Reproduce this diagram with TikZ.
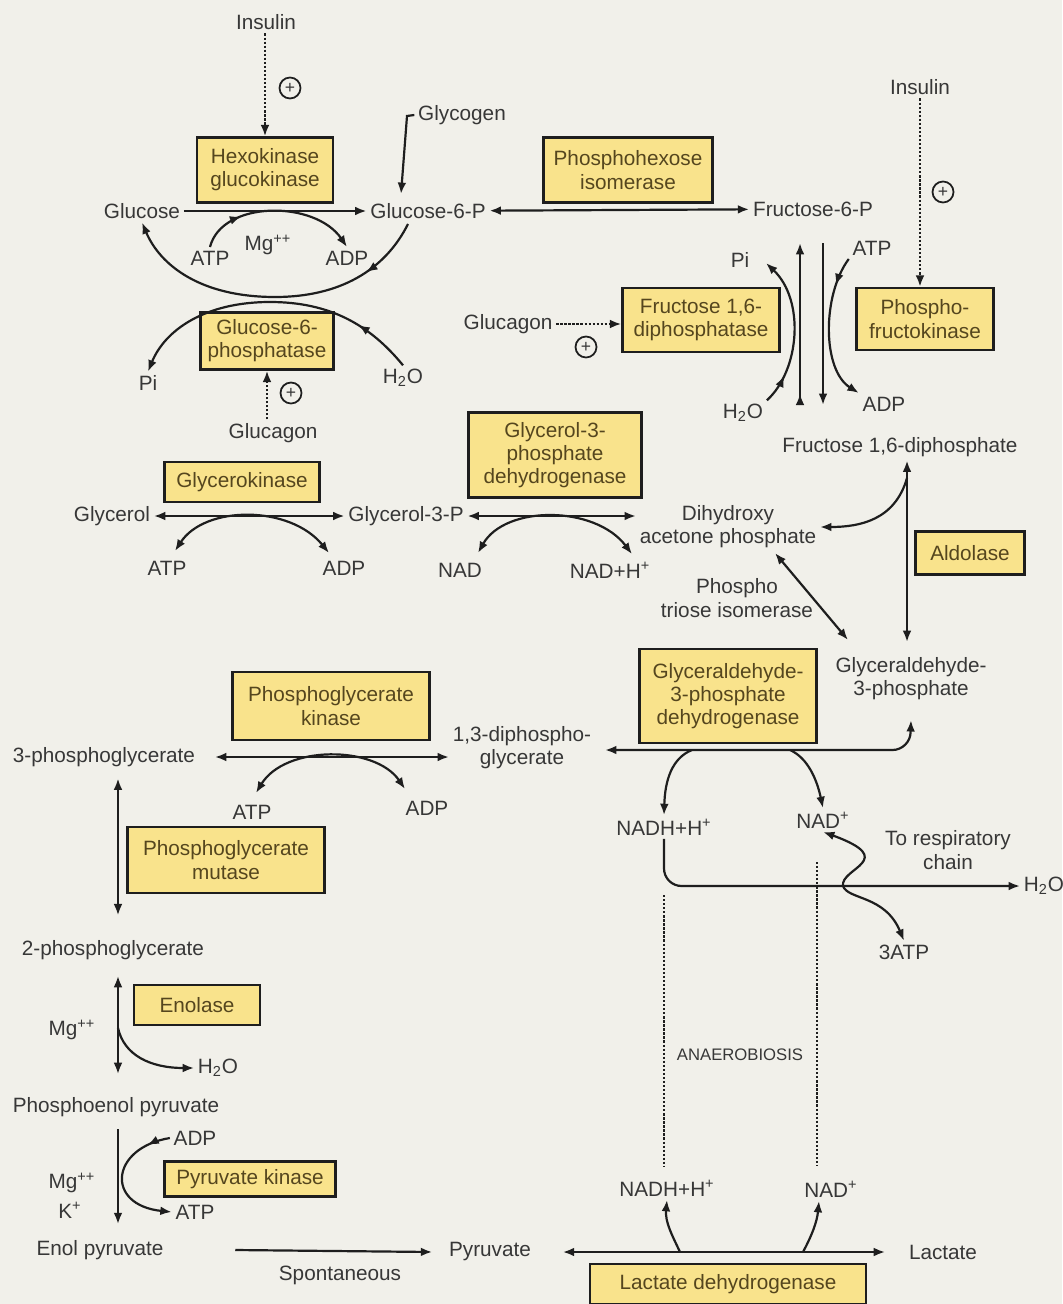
\documentclass[tikz,border=0pt]{standalone}
\usepackage{fontspec}
\setmainfont{Liberation Sans}
\usepackage{xcolor}
\usepackage{tikz}
\usetikzlibrary{arrows.meta,calc,decorations.markings}

\definecolor{bgpaper}{RGB}{241,240,234}
\definecolor{enzfill}{RGB}{249,227,140}
\definecolor{enzink}{RGB}{85,70,30}
\definecolor{txtgray}{RGB}{55,55,55}
\definecolor{inkline}{RGB}{30,30,30}

\begin{document}
\begin{tikzpicture}[
  x=0.02cm, y=-0.02cm,
  >={Latex[length=6.5pt,width=5pt]},
  every node/.style={font=\fontsize{11.8}{13.2}\selectfont, text=txtgray,
    inner sep=2pt, align=center},
  enz/.style={rectangle, draw=inkline, fill=enzfill, line width=1.3pt, text=enzink},
  arr/.style={->, draw=inkline, line width=1.25pt},
  darr/.style={<->, draw=inkline, line width=1.25pt},
  reg/.style={->, densely dotted, draw=inkline, line width=1.3pt},
  dotline/.style={densely dotted, draw=inkline, line width=1.3pt},
  actv/.style={circle, draw=inkline, line width=1pt, minimum size=0.42cm,
    inner sep=0pt, font=\fontsize{10}{10}\selectfont},
  midarr/.style={postaction={decorate}, decoration={markings,
    mark=at position #1 with {\arrow{>}}}}
]
  \fill[bgpaper] (0,0) rectangle (1062,1304);
  \useasboundingbox (0,0) rectangle (1062,1304);

  % Enzymes
  \node[enz, minimum width=2.72cm, minimum height=1.30cm] (hexo) at (265,170) {Hexokinase\\glucokinase};
  \node[enz, minimum width=3.38cm, minimum height=1.30cm] (phi) at (628,170) {Phosphohexose\\isomerase};
  \node[enz, minimum width=2.74cm, minimum height=1.24cm] (pfk) at (925,319) {Phospho-\\fructokinase};
  \node[enz, minimum width=3.14cm, minimum height=1.28cm] (fdpase) at (701,320) {Fructose 1,6-\\diphosphatase};
  \node[enz, minimum width=2.66cm, minimum height=1.14cm] (g6pase) at (267,341) {Glucose-6-\\phosphatase};
  \node[enz, minimum width=3.10cm, minimum height=0.80cm] (gk) at (242,482) {Glycerokinase};
  \node[enz, minimum width=3.46cm, minimum height=1.70cm] (g3pdh) at (555,455) {Glycerol-3-\\phosphate\\dehydrogenase};
  \node[enz, minimum width=2.18cm, minimum height=0.86cm] (ald) at (970,553) {Aldolase};
  \node[enz, minimum width=3.54cm, minimum height=1.88cm] (gapdh) at (728,696) {Glyceraldehyde-\\3-phosphate\\dehydrogenase};
  \node[enz, minimum width=3.94cm, minimum height=1.36cm] (pgk) at (331,706) {Phosphoglycerate\\kinase};
  \node[enz, minimum width=3.94cm, minimum height=1.32cm] (pgm) at (226,860) {Phosphoglycerate\\mutase};
  \node[enz, minimum width=2.52cm, minimum height=0.80cm] (eno) at (197,1005) {Enolase};
  \node[enz, minimum width=3.42cm, minimum height=0.70cm] (pk) at (250,1179) {Pyruvate kinase};
  \node[enz, minimum width=5.52cm, minimum height=0.80cm] (ldh) at (728,1284) {Lactate dehydrogenase};

  % Metabolites and cofactors
  \node (ins1) at (266,22) {Insulin};
  \node (glycogen) at (462,115) {Glycogen};
  \node (glc) at (142,211) {Glucose};
  \node (g6p) at (428,211) {Glucose-6-P};
  \node (f6p) at (813,209) {Fructose-6-P};
  \node (atp1) at (210,258) {ATP};
  \node (mg1) at (268,245) {Mg\textsuperscript{++}};
  \node (adp1) at (347,258) {ADP};
  \node (pi1) at (148,383) {Pi};
  \node (h2o1) at (403,378) {H\textsubscript{2}O};
  \node (glucagon1) at (273,433) {Glucagon};
  \node (ins2) at (920,87) {Insulin};
  \node (glucagon2) at (508,324) {Glucagon};
  \node (pi2) at (740,260) {Pi};
  \node (atp2) at (872,248) {ATP};
  \node (h2o2) at (743,413) {H\textsubscript{2}O};
  \node (adp2) at (884,404) {ADP};
  \node (f16) at (900,447) {Fructose 1,6-diphosphate};
  \node (glycerol) at (112,516) {Glycerol};
  \node (g3p) at (406,516) {Glycerol-3-P};
  \node (atp3) at (167,568) {ATP};
  \node (adp3) at (344,568) {ADP};
  \node (nad1) at (460,570) {NAD};
  \node (nadh1) at (610,570) {NAD+H\textsuperscript{+}};
  \node (dhap) at (728,527) {Dihydroxy\\acetone phosphate};
  \node (tpi) at (737,598) {Phospho\\triose isomerase};
  \node (gap) at (911,679) {Glyceraldehyde-\\3-phosphate};
  \node (pg3) at (104,757) {3-phosphoglycerate};
  \node (bpg) at (522,748) {1,3-diphospho-\\glycerate};
  \node (atp4) at (252,812) {ATP};
  \node (adp4) at (427,808) {ADP};
  \node (nadh2) at (664,827) {NADH+H\textsuperscript{+}};
  \node (nad2) at (823,820) {NAD\textsuperscript{+}};
  \node (resp) at (948,850) {To respiratory\\chain};
  \node[anchor=west] (h2o3) at (1020,886) {H\textsubscript{2}O};
  \node (atp3x) at (904,952) {3ATP};
  \node (pg2) at (113,950) {2-phosphoglycerate};
  \node (mg2) at (72,1030) {Mg\textsuperscript{++}};
  \node (h2o4) at (218,1068) {H\textsubscript{2}O};
  \node (pep) at (116,1107) {Phosphoenol pyruvate};
  \node (adp5) at (195,1138) {ADP};
  \node (atp5) at (195,1212) {ATP};
  \node (mg3) at (72,1183) {Mg\textsuperscript{++}};
  \node (kion) at (70,1210) {K\textsuperscript{+}};
  \node (enolpyr) at (100,1250) {Enol pyruvate};
  \node (spont) at (340,1275) {Spontaneous};
  \node (pyr) at (490,1252) {Pyruvate};
  \node (lac) at (943,1252) {Lactate};
  \node (nadh3) at (667,1188) {NADH+H\textsuperscript{+}};
  \node (nad3) at (831,1189) {NAD\textsuperscript{+}};
  \node[font=\fontsize{9.5}{11}\selectfont] (anaer) at (740,1055) {ANAEROBIOSIS};

  % Hormone control
  \node[actv] (plus1) at (290,88) {+};
  \node[actv] (plus2) at (291,393) {+};
  \node[actv] (plus3) at (943,192) {+};
  \node[actv] (plus4) at (586,347) {+};
  \draw[reg] (ins1.south -| hexo.north) -- (hexo.north);
  \draw[reg] (glucagon1.north -| g6pase.south) -- (g6pase.south);
  \draw[reg] (ins2.south) -- (ins2.south |- pfk.north);
  \draw[reg] (glucagon2.east) -- (glucagon2.east -| fdpase.west);

  % Glucose <-> glucose-6-P
  \coordinate (glyk) at (407,116);
  \coordinate (g6pin) at (401,194);
  \draw[arr] (glycogen.west) -- (glyk) -- (g6pin);
  \draw[arr] (glc) -- (g6p);
  \draw[darr] (g6p) -- (f6p);
  \draw[arr, midarr=0.28] (atp1.north) .. controls (222,200) and (315,200) .. (adp1.north);
  \coordinate (g6pout) at (408,224);
  \draw[arr, midarr=0.2] (g6pout) .. controls (385,270) and (340,297) .. (275,297)
    .. controls (200,297) and (160,265) .. (glc.south);
  \draw[arr, midarr=0.2] (h2o1.north) .. controls (370,325) and (330,302) .. (270,302)
    .. controls (205,302) and (165,330) .. (pi1.north);

  % Fructose-6-P <-> fructose 1,6-diphosphate
  \coordinate (upb) at (800,405);
  \coordinate (upt) at (800,243);
  \coordinate (dnt) at (823,243);
  \coordinate (dnb) at (823,405);
  \coordinate (pitip) at (766,263);
  \draw[arr, midarr=0.07] (upb) -- (upt);
  \draw[arr] (dnt) -- (dnb);
  \draw[arr, midarr=0.2] (h2o2.north east) .. controls (800,370) and (805,300) .. (pitip);
  \draw[arr, midarr=0.2] (atp2.south west) .. controls (822,295) and (822,370) .. (adp2.north west);

  % Aldolase and triose isomerase
  \coordinate (aldj) at (907,478);
  \coordinate (aldb) at (907,642);
  \draw[darr] (f16.south -| aldj) -- (aldb);
  \draw[arr] (aldj) .. controls (895,520) and (860,527) .. (dhap.east);
  \coordinate (tpia) at (775,553);
  \coordinate (tpib) at (848,640);
  \draw[darr] (tpia) -- (tpib);

  % Glycerol entry
  \draw[darr] (glycerol) -- (g3p);
  \draw[darr] ($(atp3.north)+(8,-6)$) .. controls (205,505) and (290,505) .. ($(adp3.north)+(-15,-4)$);
  \draw[darr] (g3p.east) -- (g3p.east -| dhap.west);
  \draw[darr] ($(nad1.north)+(18,-6)$) .. controls (505,505) and (595,505) .. ($(nadh1.north)+(22,-4)$);

  % Glyceraldehyde-3-P -> 1,3-diphosphoglycerate
  \coordinate (gapj) at (910,750);
  \draw[darr, rounded corners=10pt] ($(bpg.east |- gapj)+(10,0)$) -- (gapj) -- ($(gap.south)+(0,16)$);
  \coordinate (nadhj) at (692,750);
  \coordinate (nadj) at (790,750);
  \draw[arr] (nadhj) .. controls (672,758) and (665,780) .. (nadh2.north);
  \draw[arr] (nadj) .. controls (808,758) and (817,780) .. (nad2.north);

  % Aerobic route
  \coordinate (respj) at (664,886);
  \draw[arr, rounded corners=10pt] (nadh2.south) -- (nadh2.south |- respj) -- (h2o3.west);
  \coordinate (sx) at (843,886);
  \draw[arr] (sx) .. controls (840,868) and (900,860) .. (nad2.south);
  \draw[arr] (sx) .. controls (848,900) and (885,895) .. (atp3x.north);

  % Anaerobic route
  \coordinate (d1t) at (664,895);
  \coordinate (d1b) at (664,1166);
  \coordinate (d2t) at (817,862);
  \coordinate (d2b) at (817,1166);
  \draw[dotline] (d1t) -- (d1b);
  \draw[dotline] (d2t) -- (d2b);

  % 1,3-diphosphoglycerate -> enol pyruvate
  \draw[darr] ($(pg3.east)+(16,0)$) -- (pg3.east -| bpg.west);
  \draw[darr] ($(atp4.north)+(4,-8)$) .. controls (285,745) and (375,745) .. ($(adp4.north)+(-22,-8)$);
  \coordinate (colx) at (118,0);
  \draw[darr, shorten <=4.5pt, shorten >=12pt] (pg3.south -| colx) -- (pg2.north -| colx);
  \draw[darr, shorten <=7pt, shorten >=11pt] (pg2.south -| colx) -- (pep.north -| colx);
  \coordinate (enoj) at (118,1028);
  \draw[arr] (enoj) .. controls (124,1055) and (150,1068) .. (h2o4.west);
  \draw[arr, shorten <=5pt, shorten >=7pt] (pep.south -| colx) -- (enolpyr.north -| colx);
  \draw[arr, midarr=0.18] (adp5.west) .. controls (110,1148) and (105,1205) .. (atp5.west);

  % Pyruvate <-> lactate
  \draw[arr] ($(enolpyr.east)+(68,0)$) -- ($(pyr.west)+(-13,0)$);
  \draw[darr] ($(pyr.east)+(28,0)$) -- ($(lac.west)+(-20,0)$);
  \coordinate (ldh1) at (680,1252);
  \coordinate (ldh2) at (803,1252);
  \draw[arr] (ldh1) .. controls (672,1235) and (665,1222) .. (nadh3.south);
  \draw[arr] (ldh2) .. controls (812,1235) and (817,1222) .. ($(nad3.south)+(-12,0)$);
\end{tikzpicture}
\end{document}
